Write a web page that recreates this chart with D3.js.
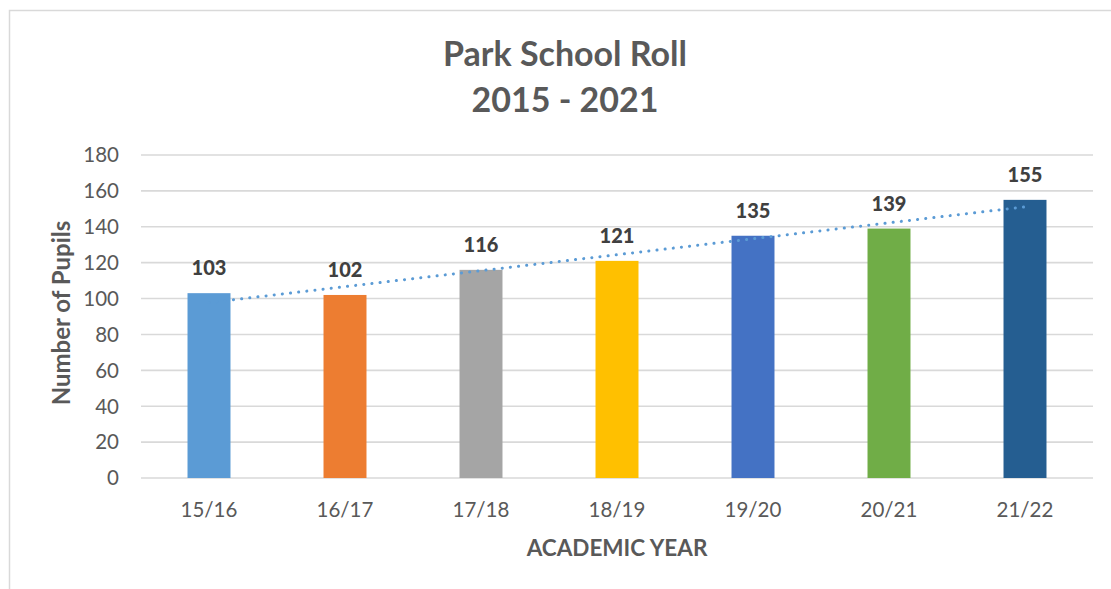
<!DOCTYPE html>
<html>
<head>
<meta charset="utf-8">
<script src="https://cdn.jsdelivr.net/npm/d3@7"></script>
<style>
  html, body { margin: 0; padding: 0; background: #fff; }
  svg { display: block; font-family: Lato, "Open Sans", sans-serif; }
</style>
</head>
<body>
<div id="chart"></div>
<script>
// School roll per academic year
const years = ["15/16", "16/17", "17/18", "18/19", "19/20", "20/21", "21/22"];
const pupils = [103, 102, 116, 121, 135, 139, 155];
const barColors = ["#5B9BD5", "#ED7D31", "#A5A5A5", "#FFC000", "#4472C4", "#70AD47", "#255E91"];
const yTicks = [0, 20, 40, 60, 80, 100, 120, 140, 160, 180];

const width = 1111;
const height = 589;
const plot = { left: 141, right: 1093, top: 155, bottom: 478 };

const svg = d3.select("#chart")
    .append("svg")
    .attr("width", width)
    .attr("height", height);

// chart area border (right and bottom edges fall outside the picture)
svg.append("rect")
    .attr("x", 9.5)
    .attr("y", 10.5)
    .attr("width", 1200)
    .attr("height", 700)
    .attr("fill", "none")
    .attr("stroke", "#d9d9d9")
    .attr("stroke-width", 1.5);

const x = d3.scaleBand()
    .domain(years)
    .range([plot.left, plot.right])
    .paddingInner(0.684)
    .paddingOuter(0.342);

const y = d3.scaleLinear()
    .domain([0, 180])
    .range([plot.bottom, plot.top]);

// gridlines
svg.append("g")
    .selectAll("line")
    .data(yTicks)
    .join("line")
    .attr("x1", plot.left)
    .attr("x2", plot.right)
    .attr("y1", d => y(d))
    .attr("y2", d => y(d))
    .attr("stroke", "#d9d9d9")
    .attr("stroke-width", 1.6);

// y tick labels
svg.append("g")
    .selectAll("text")
    .data(yTicks)
    .join("text")
    .attr("x", 119)
    .attr("y", d => y(d))
    .attr("dy", "0.36em")
    .attr("text-anchor", "end")
    .attr("fill", "#595959")
    .style("font-size", "20.5px")
    .text(d => d);

// bars
svg.append("g")
    .selectAll("rect")
    .data(pupils)
    .join("rect")
    .attr("x", (d, i) => x(years[i]))
    .attr("y", d => y(d))
    .attr("width", x.bandwidth())
    .attr("height", d => y(0) - y(d))
    .attr("fill", (d, i) => barColors[i]);

// x tick labels
svg.append("g")
    .selectAll("text")
    .data(years)
    .join("text")
    .attr("x", d => x(d) + x.bandwidth() / 2)
    .attr("y", 517)
    .attr("text-anchor", "middle")
    .attr("fill", "#595959")
    .style("font-size", "20.5px")
    .text(d => d);

// linear trendline (least squares over category index)
const n = pupils.length;
const xs = d3.range(1, n + 1);
const mx = d3.mean(xs), my = d3.mean(pupils);
const slope = d3.sum(xs, (v, i) => (v - mx) * (pupils[i] - my)) / d3.sum(xs, v => (v - mx) ** 2);
const icpt = my - slope * mx;

svg.append("line")
    .attr("x1", x(years[0]) + x.bandwidth() / 2)
    .attr("x2", x(years[n - 1]) + x.bandwidth() / 2)
    .attr("y1", y(icpt + slope * 1))
    .attr("y2", y(icpt + slope * n))
    .attr("stroke", "#5B9BD5")
    .attr("stroke-width", 3)
    .attr("stroke-linecap", "round")
    .attr("stroke-dasharray", "0.1,8.1");

// data labels
svg.append("g")
    .selectAll("text")
    .data(pupils)
    .join("text")
    .attr("x", (d, i) => x(years[i]) + x.bandwidth() / 2)
    .attr("y", d => y(d) - 18)
    .attr("text-anchor", "middle")
    .attr("fill", "#404040")
    .style("font-size", "20px")
    .style("font-weight", "900")
    .text(d => d);

// title
const title = svg.append("text")
    .attr("text-anchor", "middle")
    .attr("fill", "#595959")
    .style("font-size", "34px")
    .style("font-weight", "bold");
title.append("tspan").attr("x", 565).attr("y", 66).text("Park School Roll");
title.append("tspan").attr("x", 565).attr("y", 112).text("2015 - 2021");

// axis titles
svg.append("text")
    .attr("transform", "translate(70,313) rotate(-90)")
    .attr("text-anchor", "middle")
    .attr("fill", "#595959")
    .style("font-size", "24px")
    .style("font-weight", "bold")
    .text("Number of Pupils");

svg.append("text")
    .attr("x", (plot.left + plot.right) / 2)
    .attr("y", 556)
    .attr("text-anchor", "middle")
    .attr("fill", "#595959")
    .style("font-size", "22.5px")
    .style("font-weight", "bold")
    .text("ACADEMIC YEAR");
</script>
</body>
</html>
